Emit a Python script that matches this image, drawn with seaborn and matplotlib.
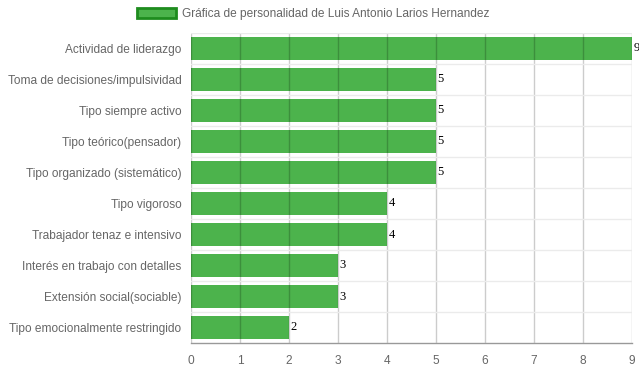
import numpy as np
import pandas as pd
import matplotlib
matplotlib.use('Agg')
import matplotlib.pyplot as plt
from matplotlib.patches import Patch
import seaborn as sns

# Data
categories = [
    'Actividad de liderazgo',
    'Toma de decisiones/impulsividad',
    'Tipo siempre activo',
    'Tipo teórico(pensador)',
    'Tipo organizado (sistemático)',
    'Tipo vigoroso',
    'Trabajador tenaz e intensivo',
    'Interés en trabajo con detalles',
    'Extensión social(sociable)',
    'Tipo emocionalmente restringido',
]
scores = [9, 5, 5, 5, 5, 4, 4, 3, 3, 2]
series_name = 'Gráfica de personalidad de Luis Antonio Larios Hernandez'

sns.set_style('white')
plt.rcParams['font.family'] = ['Liberation Sans', 'DejaVu Sans']

bar_color = '#4cb34c'
edge_color = '#1e8c1e'

df = pd.DataFrame({'Categoria': categories, 'Valor': scores})

fig = plt.figure(figsize=(6.39, 3.72), dpi=100)
ax = fig.add_axes([191 / 639, 1 - 343 / 372, 441 / 639, 310 / 372])

sns.barplot(data=df, x='Valor', y='Categoria', orient='h', color=bar_color,
            width=0.72, saturation=1, linewidth=0, ax=ax, zorder=2)

ax.set_xlim(0, 9)
ax.set_ylim(len(categories) - 0.5, -0.5)
ax.set_xticks(range(0, 10))
ax.set_xlabel('')
ax.set_ylabel('')

# grid lines: horizontal between categories, vertical at ticks (drawn over bars)
ax.set_axisbelow(False)
ax.set_yticks(np.arange(-0.5, len(categories)), minor=True)
ax.grid(axis='y', which='minor', color='#ebebeb', linewidth=1)
ax.grid(axis='x', which='major', color='black', alpha=0.2, linewidth=1)

ax.tick_params(axis='y', which='major', length=0, pad=7, labelsize=8.6, labelcolor='#666666')
ax.tick_params(axis='y', which='minor', length=10, color='#ebebeb', width=1)
ax.tick_params(axis='x', which='major', length=8, color='#cccccc', labelsize=8.6,
               labelcolor='#666666', pad=1)

for side in ['top', 'right', 'left']:
    ax.spines[side].set_visible(False)
ax.spines['bottom'].set_color('#999999')
ax.spines['bottom'].set_linewidth(1)

# value labels
for cont in ax.containers:
    ax.bar_label(cont, labels=[str(v) for v in scores], padding=1,
                 fontsize=9, family='Liberation Serif', color='black')

handle = Patch(facecolor=bar_color, edgecolor=edge_color, linewidth=2)
fig.legend([handle], [series_name], loc='center', bbox_to_anchor=(0.49, 0.962),
           frameon=False, fontsize=8.6, handlelength=3.3, handleheight=0.9,
           handletextpad=0.5, labelcolor='#666666')

fig.savefig('out.png', dpi=100)
